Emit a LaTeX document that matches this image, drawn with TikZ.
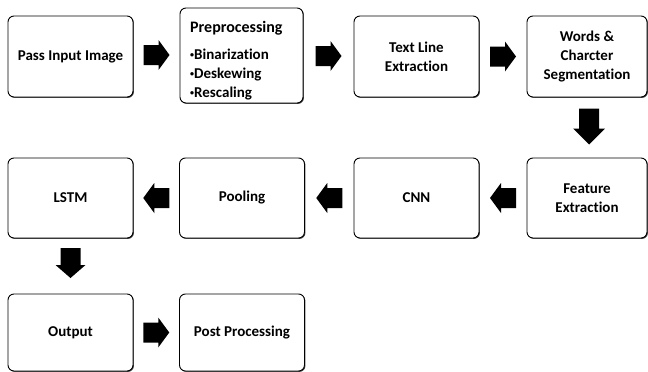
\documentclass[tikz,border=0pt]{standalone}
\usepackage{fontspec}
\setmainfont{Carlito}[Ligatures=NoCommon]
\usetikzlibrary{shadows,calc}

\tikzset{
  stagebox/.style={draw=black, line width=0.9pt, rounded corners=6pt, fill=white,
    drop shadow={shadow xshift=0.9pt, shadow yshift=-0.9pt, fill=black!75, opacity=1},
    minimum width=125pt, minimum height=81pt, inner sep=2pt, align=center,
    font=\bfseries\fontsize{15}{19}\selectfont},
  itemtext/.style={anchor=base west, inner sep=0pt,
    font=\bfseries\fontsize{15}{19}\selectfont},
  % block arrow: total length, head length, shaft half width, head half width
  arrow len/.store in=\arrlen,
  arrow head/.store in=\arrhead,
  arrow shaft/.store in=\arrshaft,
  arrow wide/.store in=\arrwide,
  arrow len=26, arrow head=11, arrow shaft=10, arrow wide=15,
  blockarrow/.pic={
    \fill[black] (-\arrlen/2,-\arrshaft) -- (\arrlen/2-\arrhead,-\arrshaft)
      -- (\arrlen/2-\arrhead,-\arrwide) -- (\arrlen/2,0)
      -- (\arrlen/2-\arrhead,\arrwide) -- (\arrlen/2-\arrhead,\arrshaft)
      -- (-\arrlen/2,\arrshaft) -- cycle;
  },
}

\begin{document}
\begin{tikzpicture}[x=1pt, y=-1pt]
\useasboundingbox (0,0) rectangle (648,372);

% first row
\node[stagebox] (input) at (70.5,56.5) {Pass Input Image};
\node[stagebox, minimum width=123pt, minimum height=95pt] (pre) at (241.5,55.5) {};
\node[stagebox] (line) at (416.5,56.5) {Text Line\\Extraction};
\node[stagebox, minimum width=120pt] (seg) at (587,56.5) {Words \&\\Charcter\\Segmentation};

% preprocessing steps
\node[itemtext, font=\bfseries\fontsize{16}{19}\selectfont] (pretitle) at (190,32) {Preprocessing};
\node[itemtext] (bin) at (190,59) {{\fontsize{8}{8}\selectfont\raisebox{1.8pt}{•}}Binarization};
\node[itemtext] (desk) at (190,78.5) {{\fontsize{8}{8}\selectfont\raisebox{1.8pt}{•}}Deskewing};
\node[itemtext] (resc) at (190,97) {{\fontsize{8}{8}\selectfont\raisebox{1.8pt}{•}}Rescaling};

% second row
\node[stagebox, minimum width=120pt, minimum height=80pt] (feat) at (587,198) {Feature\\Extraction};
\node[stagebox, minimum height=80pt] (cnn) at (416.5,198) {CNN};
\node[stagebox, minimum height=80pt] (pool) at (242,198) {Pooling};
\node[stagebox, minimum height=80pt] (lstm) at (70.5,198) {LSTM};

% third row
\node[stagebox, minimum height=77pt] (out) at (70.5,332.5) {Output};
\node[stagebox, minimum height=77pt] (post) at (242,332.5) {Post Processing};

% block arrows between stages
\pic at ($(input.east)!0.5!(pre.west)+(0,-1)$) {blockarrow};
\pic at ($(pre.east)!0.5!(line.west)$) {blockarrow};
\pic at ($(line.east)!0.5!(seg.west)$) {blockarrow};
\pic[rotate=-90, arrow len=36, arrow head=16, arrow wide=16] at ($(seg.south)!0.5!(feat.north)+(2,-1)$) {blockarrow};
\pic[rotate=180] at ($(feat.west)!0.5!(cnn.east)$) {blockarrow};
\pic[rotate=180] at ($(cnn.west)!0.5!(pool.east)$) {blockarrow};
\pic[rotate=180] at ($(pool.west)!0.5!(lstm.east)$) {blockarrow};
\pic[rotate=-90, arrow len=30, arrow head=13, arrow wide=15] at ($(lstm.south)!0.5!(out.north)+(0,-3)$) {blockarrow};
\pic at ($(out.east)!0.5!(post.west)$) {blockarrow};
\end{tikzpicture}
\end{document}
